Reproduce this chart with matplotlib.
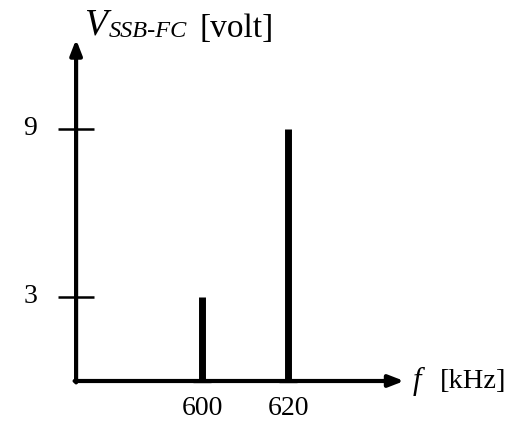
import matplotlib
matplotlib.use("Agg")
import matplotlib.pyplot as plt

# data
freqs = [600, 620]          # kHz
volts = [3, 9]              # volt
ytick_vals = [3, 9]
xtick_labels = ["600", "620"]

serif = ["Liberation Serif", "DejaVu Serif"]

fig = plt.figure(figsize=(5.11, 4.23), dpi=100)
ax = fig.add_axes([0, 0, 1, 1])
ax.set_xlim(553.0, 671.86)
ax.set_ylim(-1.5, 13.607)
ax.axis("off")

x0 = 570.7      # y-axis position
x_end = 647.0   # x-axis arrow tip
y_top = 12.2    # y-axis arrow tip

# axes with arrows
ax.annotate("", xy=(x_end, 0), xytext=(x0 - 0.35, 0),
            arrowprops=dict(arrowstyle="-|>,head_length=0.9,head_width=0.35",
                            lw=3, color="black", shrinkA=0, shrinkB=0))
ax.annotate("", xy=(x0, y_top), xytext=(x0, -0.05),
            arrowprops=dict(arrowstyle="-|>,head_length=0.9,head_width=0.35",
                            lw=3, color="black", shrinkA=0, shrinkB=0))

# y ticks
ax.hlines(ytick_vals, x0 - 4.2, x0 + 4.2, color="black", lw=1.8)
for v in ytick_vals:
    ax.text(560.0, v, str(v), fontsize=20, family=serif,
            ha="center", va="center")

# spectral lines
ax.vlines(freqs, 0, volts, color="black", lw=5)
ax.hlines([0] * len(freqs), [f - 2.0 for f in freqs], [f + 2.0 for f in freqs],
          color="#555555", lw=2.5, zorder=1)

# x tick labels
for f, lab in zip(freqs, xtick_labels):
    ax.text(f, -1.0, lab, fontsize=20, family=serif, ha="center", va="center")

# axis titles
ax.text(572.6, 12.36, "V", fontsize=27, family=serif, style="italic",
        ha="left", va="baseline")
ax.text(578.2, 12.3, "SSB-FC", fontsize=17.5, family=serif, style="italic",
        ha="left", va="baseline")
ax.text(599.3, 12.3, "[volt]", fontsize=24, family=serif,
        ha="left", va="baseline")

ax.text(649.0, -0.02, "f", fontsize=22, family=serif, style="italic",
        ha="left", va="center")
ax.text(655.3, -0.02, "[kHz]", fontsize=20.5, family=serif,
        ha="left", va="center")

fig.savefig("out.png", dpi=100)
